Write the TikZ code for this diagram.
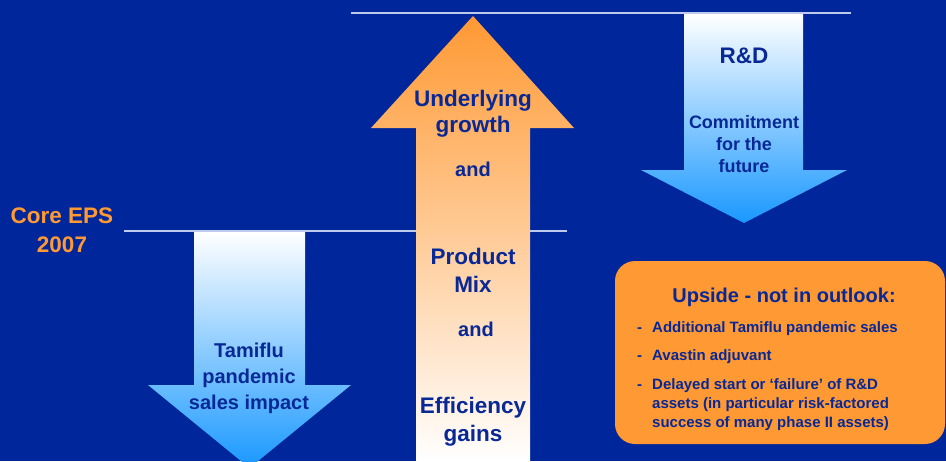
\documentclass[tikz,border=0pt]{standalone}
\usepackage{fontspec}
\setmainfont{Liberation Sans}
\usetikzlibrary{calc}
\definecolor{bgblue}{RGB}{0,38,155}
\definecolor{txtblue}{RGB}{8,40,150}
\definecolor{epsorange}{RGB}{255,153,51}
\definecolor{tipblue}{RGB}{25,152,255}
\definecolor{rulecol}{RGB}{190,202,238}
\tikzset{
  rule/.style={draw=rulecol, line width=1.2pt},
  lbl/.style={anchor=base, inner sep=0pt, text=txtblue},
  big/.style={lbl, font=\fontsize{22.5}{26}\selectfont\bfseries},
  mid/.style={lbl, font=\fontsize{20}{24}\selectfont\bfseries},
  sml/.style={lbl, font=\fontsize{18}{22}\selectfont\bfseries},
  itm/.style={anchor=base west, inner sep=0pt, text=txtblue, font=\fontsize{15}{19}\selectfont\bfseries}
}

\begin{document}
\begin{tikzpicture}[x=1pt, y=-1pt]
  \fill[bgblue] (0,0) rectangle (946,461);
  \useasboundingbox (0,0) rectangle (946,461);

  % the two levels
  \coordinate (top1) at (351,13);
  \coordinate (top2) at (851,13);
  \coordinate (eps1) at (124,231);
  \coordinate (eps2) at (567,231);
  \draw[rule] (top1) -- (top2);
  \draw[rule] (eps1) -- (eps2);

  % arrows
  \shade[top color=white, bottom color=tipblue]
    (194,232) -- (305,232) -- (305,385) -- (351,385) -- (249.5,468) -- (148,385) -- (194,385) -- cycle;
  \shade[top color=epsorange, bottom color=white]
    (473,16) -- (574,128) -- (530,128) -- (530,462) -- (416,462) -- (416,128) -- (371,128) -- cycle;
  \shade[top color=white, bottom color=tipblue]
    (684,14) -- (803,14) -- (803,170) -- (847,170) -- (744,223) -- (641,170) -- (684,170) -- cycle;

  % Core EPS
  \node[big, text=epsorange] at (62,223) (core) {Core EPS};
  \node[big, text=epsorange] at (62,252) (year) {2007};

  % Tamiflu
  \node[mid] at (249,357) (tam1) {Tamiflu};
  \node[mid] at (249,383) (tam2) {pandemic};
  \node[mid] at (249,409) (tam3) {sales impact};

  % growth
  \node[big] at (473,106) (und)  {Underlying};
  \node[big] at (473,132) (grw)  {growth};
  \node[mid] at (473,176) (and1) {and};
  \node[big] at (473,264) (prod) {Product};
  \node[big] at (473,292) (mix)  {Mix};
  \node[mid] at (476,336) (and2) {and};
  \node[big] at (473,413) (eff)  {Efficiency};
  \node[big] at (473,441) (gain) {gains};

  % R&D
  \node[big] at (744,63)  (rd)   {R\&D};
  \node[sml] at (744,128) (com1) {Commitment};
  \node[sml] at (744,150) (com2) {for the};
  \node[sml] at (744,172) (com3) {future};

  % upside box
  \fill[epsorange, rounded corners=20pt] (615,261) rectangle (945,444);
  \node[mid] at (784,302) (ups) {Upside - not in outlook:};
  \node[itm] at (637,332) (d1) {-};
  \node[itm] at (652,332) (i1) {Additional Tamiflu pandemic sales};
  \node[itm] at (637,360) (d2) {-};
  \node[itm] at (652,360) (i2) {Avastin adjuvant};
  \node[itm] at (637,389) (d3) {-};
  \node[itm] at (652,389) (i3a) {Delayed start or ‘failure’ of R\&D};
  \node[itm] at (652,408) (i3b) {assets (in particular risk-factored};
  \node[itm] at (652,427) (i3c) {success of many phase II assets)};
\end{tikzpicture}
\end{document}
